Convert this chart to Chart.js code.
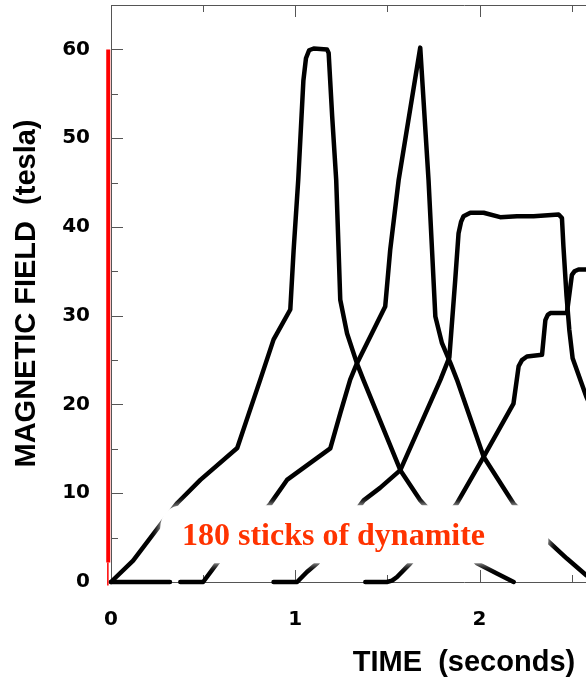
<!DOCTYPE html>
<html>
<head>
<meta charset="utf-8">
<script src="https://cdn.jsdelivr.net/npm/chart.js@4"></script>
<style>
html, body { margin: 0; padding: 0; width: 586px; height: 681px; overflow: hidden; background: #fff; }
canvas { display: block; }
</style>
</head>
<body>
<canvas id="chart" width="830" height="681"></canvas>
<script>
// pulse 1: flat top at 60 T
const timeA = [0, 0.12, 0.284, 0.36, 0.485, 0.685, 0.745, 0.81, 0.882, 0.973, 0.991, 1.016, 1.044, 1.058, 1.075, 1.1, 1.172, 1.181, 1.2, 1.222, 1.235, 1.244, 1.281, 1.335, 1.369, 1.57, 1.678, 1.986, 2.094, 2.185];
const fieldA = [0, 2.4, 6.9, 8.9, 11.5, 15.1, 18.8, 22.8, 27.3, 30.7, 37.4, 45.3, 56.5, 59.0, 59.9, 60.1, 60, 59.6, 52.5, 45.3, 37.4, 31.8, 28.0, 24.6, 22.8, 12.6, 9.2, 2.1, 0.95, 0];

// pulse 2: sharp 60 T spike (null = gap in trace)
const timeB = [0, 0.32, 0.35, 0.376, 0.5, 0.575, 0.864, 0.955, 1.19, 1.244, 1.298, 1.335, 1.488, 1.515, 1.561, 1.678, 1.723, 1.742, 1.76, 1.796, 1.842, 1.877, 2.022, 2.184, 2.366, 2.474, 2.579, 2.62];
const fieldB = [0, 0, null, 0, 0, 2.1, 8.8, 11.5, 15.06, 19.0, 22.8, 24.65, 31.04, 37.4, 45.3, 60.2, 45.3, 37.4, 29.9, 26.9, 24.65, 22.8, 14.1, 8.85, 4.7, 2.64, 0.76, 0.5];

// pulse 3: plateau near 41 T
const timeC = [0.882, 1.01, 1.063, 1.118, 1.371, 1.46, 1.57, 1.788, 1.836, 1.868, 1.886, 1.9, 1.913, 1.95, 2.022, 2.112, 2.203, 2.293, 2.429, 2.447, 2.455, 2.472, 2.487, 2.505, 2.579, 2.62];
const fieldC = [0, 0, 1.13, 2.1, 9.2, 10.6, 12.6, 22.8, 25.3, 34.05, 39.3, 40.6, 41.2, 41.6, 41.6, 41.1, 41.2, 41.2, 41.4, 41.0, 37.8, 32.2, 28.4, 25.2, 20.9, 19.0];

// pulse 4: stepped rise to 35 T
const timeD = [1.38, 1.497, 1.525, 1.552, 1.624, 1.877, 2.022, 2.184, 2.212, 2.23, 2.257, 2.339, 2.357, 2.37, 2.384, 2.474, 2.501, 2.515, 2.537, 2.579, 2.62];
const fieldD = [0, 0, 0.15, 0.56, 2.1, 8.85, 14.1, 20.1, 24.3, 25.0, 25.4, 25.6, 29.5, 30.1, 30.3, 30.3, 34.6, 35.0, 35.2, 35.2, 35.2];

// red marker bar along the field axis (thick part, then thin tail)
const redBarTime = [-0.015, -0.015];
const redBarField = [60, 2.2];
const redTailTime = [-0.017, -0.017];
const redTailField = [2.2, -0.4];

const yMajorTicks = [0, 10, 20, 30, 40, 50, 60];
const yMinorTicks = [5, 15, 25, 35, 45, 55];
const xMajorTicks = [0, 1, 2];
const xMinorTicks = [0.5, 1.5, 2.5];

const noteText = "180 sticks of dynamite";
const noteBoxTime = [0.2675, 2.373];
const noteBoxField = [2.1, 8.66];
const noteTextTime = 0.385;
const noteTextField = 4.14;

const toPoints = (t, b) => t.map((v, i) => ({ x: v, y: b[i] }));

const trace = (t, b) => ({
	data: toPoints(t, b),
	borderColor: "#000",
	borderWidth: 4.5,
	pointRadius: 0,
	fill: false,
	tension: 0,
	borderJoinStyle: "round",
	borderCapStyle: "round",
	spanGaps: false,
	clip: 3
});

const redLine = (t, b, w) => ({
	data: toPoints(t, b),
	borderColor: "#ff0000",
	borderWidth: w,
	pointRadius: 0,
	clip: false
});

const inwardTicks = {
	id: "inwardTicks",
	beforeDatasetsDraw(chart) {
		const { ctx, chartArea: a, scales: { x, y } } = chart;
		const px = (v) => Math.round(x.getPixelForValue(v)) + 0.5;
		const py = (v) => Math.round(y.getPixelForValue(v)) + 0.5;

		ctx.save();
		ctx.strokeStyle = "#555";
		ctx.lineWidth = 1;
		ctx.beginPath();
		yMajorTicks.forEach((v) => { ctx.moveTo(a.left, py(v)); ctx.lineTo(a.left + 12, py(v)); });
		yMinorTicks.forEach((v) => { ctx.moveTo(a.left, py(v)); ctx.lineTo(a.left + 7, py(v)); });
		xMajorTicks.forEach((v) => {
			ctx.moveTo(px(v), a.bottom); ctx.lineTo(px(v), a.bottom - 12);
			ctx.moveTo(px(v), a.top); ctx.lineTo(px(v), a.top + 12);
		});
		xMinorTicks.forEach((v) => {
			ctx.moveTo(px(v), a.bottom); ctx.lineTo(px(v), a.bottom - 7);
			ctx.moveTo(px(v), a.top); ctx.lineTo(px(v), a.top + 7);
		});
		ctx.stroke();
		ctx.restore();
	}
};

const dynamiteNote = {
	id: "dynamiteNote",
	afterDatasetsDraw(chart) {
		const { ctx, scales: { x, y } } = chart;
		const x1 = x.getPixelForValue(noteBoxTime[0]);
		const x2 = x.getPixelForValue(noteBoxTime[1]);
		const y1 = y.getPixelForValue(noteBoxField[1]);
		const y2 = y.getPixelForValue(noteBoxField[0]);

		ctx.save();
		ctx.fillStyle = "#fff";
		ctx.shadowColor = "#fff";
		ctx.shadowBlur = 8;
		ctx.beginPath();
		ctx.roundRect(x1, y1, x2 - x1, y2 - y1, 22);
		ctx.fill();
		ctx.shadowBlur = 0;

		ctx.fillStyle = "#ff3300";
		ctx.font = "bold 32px 'Liberation Serif'";
		ctx.textAlign = "left";
		ctx.textBaseline = "alphabetic";
		ctx.fillText(noteText, x.getPixelForValue(noteTextTime), y.getPixelForValue(noteTextField));
		ctx.restore();
	}
};

const tickFont = { family: "DejaVu Sans", weight: "bold", size: 20 };
const titleFont = { family: "Liberation Sans", weight: "bold", size: 29 };
const axisGrid = { display: true, drawOnChartArea: false, drawTicks: false };
const axisBorder = { display: true, color: "#555", width: 1 };

// keep the plot box where the original has it, no label overhang padding
const noOverhang = (scale) => {
	scale.paddingTop = 0;
	scale.paddingBottom = 0;
	scale.paddingLeft = 0;
	scale.paddingRight = 0;
};

new Chart(document.getElementById("chart").getContext("2d"), {
	type: "line",
	data: {
		datasets: [
			redLine(redBarTime, redBarField, 4),
			redLine(redTailTime, redTailField, 1.5),
			trace(timeA, fieldA),
			trace(timeB, fieldB),
			trace(timeC, fieldC),
			trace(timeD, fieldD)
		]
	},
	options: {
		responsive: false,
		devicePixelRatio: 1,
		animation: false,
		layout: {
			padding: { left: 0, right: 13, top: 0, bottom: 0 }
		},
		plugins: {
			legend: { display: false },
			tooltip: { enabled: false }
		},
		scales: {
			x: {
				type: "linear",
				position: "bottom",
				min: 0,
				max: 3.831,
				afterBuildTicks: (scale) => { scale.ticks = xMajorTicks.map((v) => ({ value: v })); },
				afterFit: (scale) => { scale.height = 99; noOverhang(scale); },
				ticks: { font: tickFont, color: "#000", padding: 26, maxRotation: 0 },
				grid: axisGrid,
				border: axisBorder,
				title: {
					display: true,
					text: "TIME  (seconds)",
					font: titleFont,
					color: "#000",
					padding: { top: 0, bottom: 1 }
				}
			},
			x2: {
				type: "linear",
				axis: "x",
				position: "top",
				min: 0,
				max: 3.831,
				afterFit: (scale) => { scale.height = 5; noOverhang(scale); },
				ticks: { display: false },
				grid: axisGrid,
				border: axisBorder
			},
			y: {
				type: "linear",
				position: "left",
				min: 0,
				max: 65,
				afterBuildTicks: (scale) => { scale.ticks = yMajorTicks.map((v) => ({ value: v })); },
				afterFit: (scale) => { scale.width = 111; noOverhang(scale); },
				ticks: { font: tickFont, color: "#000", padding: 21 },
				grid: axisGrid,
				border: axisBorder,
				title: {
					display: true,
					text: "MAGNETIC FIELD  (tesla)",
					font: titleFont,
					color: "#000",
					padding: { top: 10, bottom: 0 }
				}
			}
		}
	},
	plugins: [inwardTicks, dynamiteNote]
});
</script>
</body>
</html>
